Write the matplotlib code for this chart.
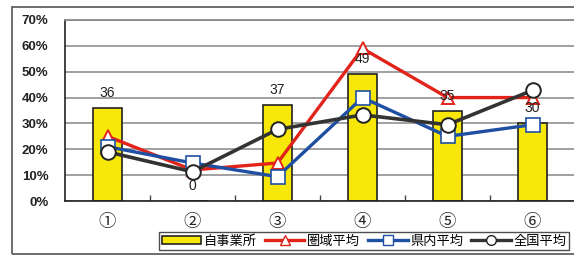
import matplotlib
matplotlib.use("Agg")
import matplotlib.pyplot as plt
from matplotlib.patches import Rectangle
from matplotlib.lines import Line2D
from matplotlib.patches import Patch

categories = ["①", "②", "③", "④", "⑤", "⑥"]
own = [36, 0, 37, 49, 35, 30]          # 自事業所
region = [25, 12, 14.7, 59, 40, 40]    # 圏域平均
prefecture = [21, 14.7, 9.4, 40, 25, 29.5]  # 県内平均
national = [19, 11.3, 27.7, 33.3, 29.5, 42.8]  # 全国平均
yticks = [0, 10, 20, 30, 40, 50, 60, 70]

cjk = ["Noto Sans CJK JP", "DejaVu Sans"]
plt.rcParams["font.family"] = ["Liberation Sans", "Noto Sans CJK JP", "DejaVu Sans"]

fig = plt.figure(figsize=(5.74, 2.57), dpi=100)
fig.patch.set_facecolor("white")

# outer frame
fig.add_artist(Rectangle((12 / 574, 3 / 257), 1.2, 247 / 257,
                         transform=fig.transFigure, fill=False,
                         edgecolor="#555555", linewidth=1.2))

ax = fig.add_axes([65 / 574, 1 - 201 / 257, 510 / 574, 181 / 257])
x = list(range(1, len(categories) + 1))

ax.bar(x, own, width=0.33, color="#f7e80a", edgecolor="#222222",
       linewidth=1.2, zorder=2)
ax.plot(x, region, color="#e2231a", linewidth=2.4, marker="^",
        markersize=8, markerfacecolor="white", markeredgecolor="#e2231a",
        markeredgewidth=1.4, zorder=3)
ax.plot(x, prefecture, color="#1f4fa3", linewidth=2.4, marker="s",
        markersize=9.5, markerfacecolor="white", markeredgecolor="#1f4fa3",
        markeredgewidth=1.2, zorder=4)
ax.plot(x, national, color="#333333", linewidth=2.6, marker="o",
        markersize=10.5, markerfacecolor="white", markeredgecolor="#222222",
        markeredgewidth=1.4, zorder=5)

for xi, v in zip(x, own):
    ax.annotate(str(v), (xi, v), xytext=(0, 15), textcoords="offset pixels",
                ha="center", va="center", fontsize=10, color="#222222",
                zorder=6)

ax.set_xlim(0.5, 6.5)
ax.set_ylim(0, 70)
ax.set_yticks(yticks)
ax.set_yticklabels([f"{t}%" for t in yticks], fontsize=9.5,
                   fontweight="bold", color="#222222")
ax.yaxis.grid(True, color="#999999", linewidth=1.3, zorder=0)
ax.set_axisbelow(True)
ax.tick_params(axis="y", length=0, pad=12)

ax.set_xticks(x)
ax.set_xticklabels(categories, fontsize=12.5, family=cjk, color="#222222")
ax.tick_params(axis="x", which="major", length=0, pad=9)
ax.set_xticks([1.5, 2.5, 3.5, 4.5, 5.5], minor=True)
ax.tick_params(axis="x", which="minor", direction="in", length=4,
               width=1, color="#444444")

for s in ["left", "bottom"]:
    ax.spines[s].set_color("#222222")
    ax.spines[s].set_linewidth(1.2)
ax.spines["top"].set_color("#888888")
ax.spines["top"].set_linewidth(1.3)
ax.spines["right"].set_visible(False)

handles = [
    Patch(facecolor="#f7e80a", edgecolor="#222222", linewidth=1.2),
    Line2D([], [], color="#e2231a", linewidth=2.4, marker="^", markersize=7,
           markerfacecolor="white", markeredgecolor="#e2231a"),
    Line2D([], [], color="#1f4fa3", linewidth=2.4, marker="s", markersize=7,
           markerfacecolor="white", markeredgecolor="#1f4fa3"),
    Line2D([], [], color="#333333", linewidth=2.4, marker="o", markersize=7,
           markerfacecolor="white", markeredgecolor="#222222"),
]
labels = ["自事業所", "圏域平均", "県内平均", "全国平均"]
leg = fig.legend(handles, labels, loc="center",
                 bbox_to_anchor=(364 / 574, 1 - 241 / 257), ncol=4,
                 frameon=True, fancybox=False, edgecolor="#222222",
                 prop={"family": cjk, "size": 9.5}, handlelength=3,
                 handleheight=0.6, handletextpad=0.2, columnspacing=0.6,
                 borderpad=0.2, borderaxespad=0)
leg.get_frame().set_linewidth(1.0)

fig.savefig("out.png", dpi=100)
